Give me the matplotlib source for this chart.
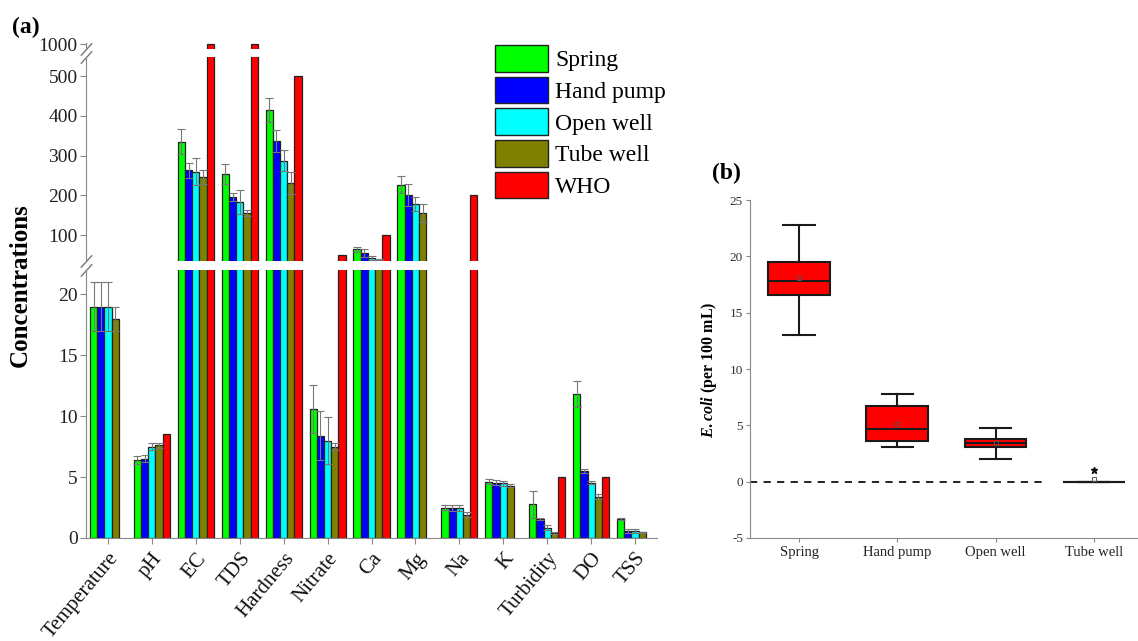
import numpy as np
import matplotlib
matplotlib.use("Agg")
import matplotlib.pyplot as plt
from matplotlib.patches import Patch

plt.rcParams['font.family'] = ['Liberation Serif', 'DejaVu Serif']
plt.rcParams['mathtext.fontset'] = 'custom'
plt.rcParams['mathtext.it'] = 'Liberation Serif:italic:bold'
plt.rcParams['mathtext.rm'] = 'Liberation Serif:bold'
plt.rcParams['axes.unicode_minus'] = False

# water quality parameters (mean +/- sd) per source, WHO guideline
params = ['Temperature', 'pH', 'EC', 'TDS', 'Hardness', 'Nitrate', 'Ca', 'Mg',
          'Na', 'K', 'Turbidity', 'DO', 'TSS']
spring = [19, 6.4, 335, 254, 415, 10.6, 64, 227, 2.5, 4.63, 2.77, 11.8, 1.56]
spring_err = [2, 0.3, 32, 26, 31, 2.0, 6, 22, 0.2, 0.2, 1.1, 1.07, 0.1]
hand_pump = [19, 6.5, 263, 195, 336, 8.4, 54, 201, 2.5, 4.55, 1.56, 5.5, 0.58]
hand_pump_err = [2, 0.3, 19, 10, 28, 2.0, 10, 28, 0.25, 0.2, 0.12, 0.2, 0.15]
open_well = [19, 7.5, 260, 183, 287, 8.0, 42, 178, 2.5, 4.5, 0.85, 4.55, 0.58]
open_well_err = [2, 0.3, 34, 31, 26, 1.9, 5, 17, 0.25, 0.2, 0.2, 0.15, 0.15]
tube_well = [18, 7.6, 246, 155, 231, 7.5, 38.5, 156, 1.9, 4.3, 0.4, 3.4, 0.47]
tube_well_err = [1, 0.2, 17, 8, 27, 0.3, 2, 23, 0.2, 0.15, 0.1, 0.2, 0.05]
who = [None, 8.5, 1000, 1000, 500, 50, 100, None, 200, None, 5, 5, None]

# E. coli box statistics
sources = ['Spring', 'Hand pump', 'Open well', 'Tube well']
ec_q1 = [16.6, 3.6, 3.1, 0]
ec_med = [17.8, 4.7, 3.4, 0]
ec_q3 = [19.5, 6.7, 3.8, 0]
ec_lo = [13.0, 3.05, 2.05, 0]
ec_hi = [22.8, 7.8, 4.8, 0]
ec_mean = [18.1, 5.1, 3.45, 0.25]
ec_fliers = [[], [], [], [1.0]]

colors = ['#00ff00', '#0000ff', '#00ffff', '#808000', '#ff0000']
names = ['Spring', 'Hand pump', 'Open well', 'Tube well', 'WHO']
series = [(spring, spring_err), (hand_pump, hand_pump_err),
          (open_well, open_well_err), (tube_well, tube_well_err)]

W, H = 1138, 641
fig = plt.figure(figsize=(W / 100, H / 100), dpi=100)


def px_axes(x0, y0, x1, y1):
    return fig.add_axes([x0 / W, 1 - y1 / H, (x1 - x0) / W, (y1 - y0) / H])


ax_top = px_axes(86, 43, 657, 49)
ax_mid = px_axes(86, 57, 657, 261)
ax_bot = px_axes(86, 270, 657, 538)
axes_a = [ax_top, ax_mid, ax_bot]

x = np.arange(len(params))
bw = 0.164
for ax in axes_a:
    for i, (vals, errs) in enumerate(series):
        ax.bar(x + (i - 2) * bw, vals, bw, color=colors[i], edgecolor='#222222',
               linewidth=0.9, yerr=errs, ecolor='#777777',
               error_kw=dict(elinewidth=0.8, capsize=3, capthick=0.8))
    wi = [k for k, v in enumerate(who) if v is not None]
    ax.bar(x[wi] + 2 * bw, [who[k] for k in wi], bw, color=colors[4],
           edgecolor='#222222', linewidth=0.9)
    ax.set_xlim(-0.5, 12.5)
    for s in ['top', 'right']:
        ax.spines[s].set_visible(False)
    ax.spines['left'].set_color('#888888')
    ax.spines['bottom'].set_color('#888888')
    ax.tick_params(axis='y', direction='out', length=4, color='#888888',
                   labelsize=14, labelcolor='#222222', pad=2)

ax_top.set_ylim(985, 1004)
ax_top.set_yticks([1000])
ax_mid.set_ylim(35, 548)
ax_mid.set_yticks([100, 200, 300, 400, 500])
ax_bot.set_ylim(0, 22)
ax_bot.set_yticks([0, 5, 10, 15, 20])
for ax in [ax_top, ax_mid]:
    ax.spines['bottom'].set_visible(False)
    ax.set_xticks([])
ax_bot.set_xticks(x)
ax_bot.set_xticklabels(params, rotation=50, ha='right', rotation_mode='anchor',
                       fontsize=15, color='#111111')
ax_bot.tick_params(axis='x', direction='out', length=4, color='#888888', pad=4)

# axis break marks
kw = dict(marker=[(-1, -1.1), (1, 1.1)], markersize=9, linestyle='none',
          color='#777777', mec='#777777', mew=1, clip_on=False)
ax_top.plot([0], [0], transform=ax_top.transAxes, **kw)
ax_mid.plot([0, 0], [0, 1], transform=ax_mid.transAxes, **kw)
ax_bot.plot([0], [1], transform=ax_bot.transAxes, **kw)

handles = [Patch(facecolor=c, edgecolor='#222222', linewidth=1) for c in colors]
fig.legend(handles, names, loc='upper left', bbox_to_anchor=(495 / W, 1 - 45 / H),
           frameon=False, fontsize=17, handlelength=2.25, handleheight=1.35,
           labelspacing=0.22, handletextpad=0.3, borderpad=0, borderaxespad=0)

fig.text(20 / W, 1 - 285 / H, 'Concentrations', rotation=90, ha='center',
         va='center', fontsize=18, fontweight='bold')
fig.text(12 / W, 1 - 27 / H, '(a)', ha='left', va='center', fontsize=17,
         fontweight='bold')

# panel (b): E. coli boxplot
ax_b = px_axes(750, 200, 1137, 538)
stats = []
for k in range(len(sources)):
    stats.append(dict(label=sources[k], q1=ec_q1[k], med=ec_med[k], q3=ec_q3[k],
                      whislo=ec_lo[k], whishi=ec_hi[k], mean=ec_mean[k],
                      fliers=ec_fliers[k]))
ax_b.hlines(0, 0.5, 3.5, colors='#111111', linestyles=(0, (4, 3.5)), lw=1.3)
ax_b.bxp(stats, positions=[1, 2, 3, 4], widths=0.63, capwidths=0.32,
         showmeans=True, patch_artist=True,
         boxprops=dict(facecolor='#ff0000', edgecolor='#1a1a1a', linewidth=1.5),
         medianprops=dict(color='#1a1a1a', linewidth=1.5),
         whiskerprops=dict(color='#1a1a1a', linewidth=1.5),
         capprops=dict(color='#1a1a1a', linewidth=1.5),
         meanprops=dict(marker='s', markersize=3, markerfacecolor='none',
                        markeredgecolor='#555555', markeredgewidth=0.7),
         flierprops=dict(marker='*', markersize=5, markerfacecolor='#111111',
                         markeredgecolor='#111111'))
ax_b.set_xlim(0.5, 4.44)
ax_b.set_ylim(-5, 25)
ax_b.set_yticks([-5, 0, 5, 10, 15, 20, 25])
for s in ['top', 'right']:
    ax_b.spines[s].set_visible(False)
ax_b.spines['left'].set_color('#888888')
ax_b.spines['bottom'].set_color('#888888')
ax_b.tick_params(axis='y', direction='out', length=3, color='#888888',
                 labelsize=9.5, labelcolor='#333333', pad=2)
ax_b.tick_params(axis='x', direction='out', length=3, color='#888888',
                 labelsize=10.5, labelcolor='#222222', pad=3)
fig.text(709 / W, 1 - 370 / H, r'$\mathit{E.coli}$ (per 100 mL)', rotation=90,
         ha='center', va='center', fontsize=11.5, fontweight='bold')
fig.text(712 / W, 1 - 173 / H, '(b)', ha='left', va='center', fontsize=17,
         fontweight='bold')

fig.savefig('out.png', dpi=100)
